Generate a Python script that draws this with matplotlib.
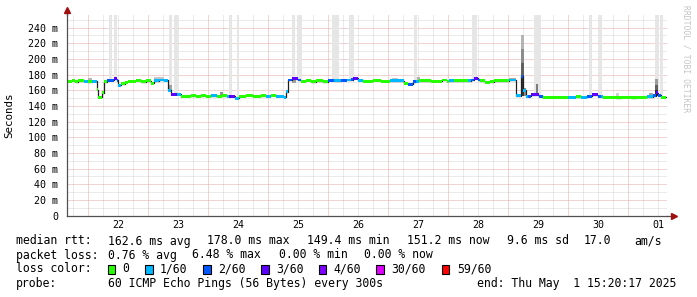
import numpy as np
import matplotlib.pyplot as plt

plt.rcParams['font.family'] = ['DejaVu Sans Mono', 'DejaVu Sans']

# time axis in days of April (31 = May 1), graph ends Thu May 1 15:20:17 2025
t_end = 31 + (15 + 20 / 60 + 17 / 3600) / 24
t_start = t_end - 10

# median rtt steps (start day, ms, lost pings out of 60)
seg_day = [21.639, 21.728, 21.778, 21.828, 21.928,
           21.995, 22.062, 22.140, 22.167, 22.223, 22.257, 22.312, 22.428, 22.478, 22.503, 22.545, 22.612, 22.662, 22.795, 22.878, 22.962,
           23.045, 23.095, 23.178, 23.262, 23.333, 23.387, 23.487, 23.545, 23.712, 23.795, 23.878, 23.962,
           24.045, 24.145, 24.228, 24.312, 24.345, 24.445, 24.512, 24.628, 24.745, 24.878, 24.962,
           25.045, 25.128, 25.262, 25.303, 25.333, 25.395, 25.495, 25.545, 25.628, 25.712, 25.795, 25.912,
           25.995, 26.095, 26.212, 26.312, 26.378, 26.412, 26.490, 26.578, 26.745, 26.878,
           27.028, 27.262, 27.328, 27.412, 27.462, 27.520, 27.712, 27.895, 27.978,
           28.020, 28.103, 28.328, 28.378, 28.428, 28.495, 28.528, 28.612, 28.695, 28.762,
           29.012, 29.128, 29.212, 29.245, 29.295, 29.328, 29.378, 29.512, 29.578,
           29.995, 30.128, 30.212, 30.312, 30.395, 30.495, 30.545, 30.578, 30.795, 30.878,
           31.045, 31.128, 31.312, 31.412, 31.462, 31.495, 31.545]
seg_rtt = [171.5, 172.5, 170.5, 172.0, 171.5,
           170.5, 171.5, 160.5, 151.0, 157.0, 171.0, 172.5, 174.5, 172.5, 166.5, 168.5, 170.0, 171.5, 172.5, 171.0, 172.0,
           169.0, 172.0, 173.0, 172.5, 160.0, 155.0, 154.5, 152.5, 153.0, 152.0, 153.0, 152.5,
           153.0, 152.5, 153.0, 152.5, 152.5, 149.4, 152.5, 153.5, 152.5, 153.0, 152.5,
           153.5, 152.5, 151.0, 158.0, 173.0, 174.5, 173.0, 171.5, 172.5, 170.5, 172.0, 171.0,
           172.5, 172.0, 172.5, 173.0, 173.5, 175.0, 172.5, 171.5, 172.5, 171.5,
           172.0, 169.0, 167.5, 170.5, 171.5, 172.0, 171.5, 173.0, 171.5,
           172.0, 172.0, 172.0, 173.0, 175.0, 173.0, 172.0, 170.0, 171.0, 172.0,
           173.0, 153.0, 178.0, 160.0, 152.5, 152.5, 154.0, 152.5, 151.2,
           151.0, 151.5, 151.0, 152.5, 154.0, 152.5, 151.5, 151.0, 150.5, 151.2,
           150.5, 151.2, 151.5, 153.0, 157.0, 153.5, 151.2]
seg_loss = [0, 0, 0, 0, 1,
            0, 1, 0, 0, 0, 0, 2, 3, 2, 1, 0, 0, 0, 0, 0, 0,
            0, 1, 1, 1, 1, 3, 1, 0, 0, 0, 0, 0,
            1, 0, 0, 1, 3, 1, 0, 0, 0, 0, 1,
            0, 1, 1, 1, 2, 3, 2, 0, 0, 0, 0, 0,
            2, 1, 2, 1, 2, 3, 1, 0, 0, 0,
            1, 0, 2, 2, 1, 0, 0, 0, 0,
            1, 0, 1, 2, 3, 2, 0, 0, 0, 0,
            1, 1, 2, 1, 1, 2, 3, 2, 0,
            1, 0, 1, 2, 3, 2, 1, 0, 0, 0,
            0, 0, 1, 2, 3, 2, 0]

loss_levels = [0, 1, 2, 3, 4, 30, 59]
loss_colors = ['#26ff00', '#00b8ff', '#0059ff', '#5e00ff', '#7e00ff', '#dd00ff', '#ff0000']
loss_names = ['0', '1/60', '2/60', '3/60', '4/60', '30/60', '59/60']

# outer smoke that runs off the top of the graph
haze_from = [22.340, 22.423, 23.350, 23.433, 24.350, 24.478, 25.395, 25.478, 26.062, 26.340,
             27.423, 28.395, 29.433, 30.340, 30.507, 31.450, 31.523]
haze_to = [22.395, 22.478, 23.395, 23.500, 24.395, 24.512, 25.450, 25.557, 26.173, 26.423,
           27.478, 28.473, 29.545, 30.395, 30.562, 31.507, 31.578]

# inner smoke patches
smoke_from = [22.00, 23.10, 23.33, 24.20, 25.40, 27.07, 27.48, 29.01,
              29.22, 29.22, 29.22, 29.22, 29.26, 29.47, 30.80, 31.35, 31.45, 31.45, 31.45]
smoke_to = [22.06, 23.26, 23.40, 24.25, 25.47, 27.16, 27.53, 29.13,
            29.26, 29.26, 29.26, 29.26, 29.30, 29.50, 30.85, 31.42, 31.50, 31.50, 31.50]
smoke_lo = [171, 173, 158, 153, 169, 173, 172, 173,
            153, 175, 195, 212, 153, 153, 151, 152, 152, 160, 167]
smoke_hi = [175, 177, 166, 158, 173, 176, 177, 176,
            175, 195, 212, 231, 163, 168, 156, 157, 160, 167, 174]
smoke_grey = ['#b4b4b4', '#c4c4c4', '#a0a0a0', '#909090', '#a0a0a0', '#c4c4c4', '#b0b0b0', '#a8a8a8',
              '#383838', '#606060', '#8c8c8c', '#b4b4b4', '#8c8c8c', '#7c7c7c', '#d0d0d0', '#a0a0a0',
              '#303030', '#606060', '#9c9c9c']

y_max = 256
day_labels = ['22', '23', '24', '25', '26', '27', '28', '29', '30', '01']

fig = plt.figure(figsize=(6.97, 2.97), dpi=100)
fig.patch.set_facecolor('white')
ax = fig.add_axes([66.5 / 697, (297 - 215.5) / 297, 600 / 697, (215.5 - 15) / 297])
ax.set_xlim(t_start, t_end)
ax.set_ylim(0, y_max)

# grid, rrdtool style
for d in np.arange(21.75, 31.8, 0.25):
    if abs(d - round(d)) < 1e-6:
        ax.axvline(d, color='#e6a8a8', lw=0.72, ls=(0, (1, 1)), zorder=0.6)
    else:
        ax.axvline(d, color='#d6d6d6', lw=0.72, ls=(0, (1, 1)), zorder=0.5)
for v in range(10, 260, 10):
    if v % 20 == 0:
        ax.axhline(v, color='#e6a8a8', lw=0.72, ls=(0, (1, 1)), zorder=0.6)
    else:
        ax.axhline(v, color='#d6d6d6', lw=0.72, ls=(0, (1, 1)), zorder=0.5)

days = np.array(seg_day)
rtt = np.array(seg_rtt)
edges = np.append(days, t_end)
widths = np.diff(edges)

# haze from the median up to the top
h_from = np.array(haze_from)
h_to = np.array(haze_to)
base = rtt[np.searchsorted(days, h_from, side='right') - 1]
ax.bar(h_from, y_max - base, bottom=base, width=h_to - h_from, align='edge',
       color='#e6e6e6', lw=0, zorder=1)

s_from = np.array(smoke_from)
ax.bar(s_from, np.array(smoke_hi) - np.array(smoke_lo), bottom=smoke_lo,
       width=np.array(smoke_to) - s_from, align='edge', color=smoke_grey, lw=0, zorder=2)

# median line
ax.step(edges, np.append(rtt, rtt[-1]), where='post', color='#202020', lw=0.9, zorder=3)

# coloured loss band on the median
band = 3.8
col = [loss_colors[loss_levels.index(l)] for l in seg_loss]
ax.bar(days, band, bottom=rtt - band / 2, width=widths, align='edge', color=col, lw=0, zorder=4)

ax.set_yticks(range(0, 241, 20))
ax.set_yticklabels(['0'] + ['%d m' % v for v in range(20, 241, 20)])
ax.set_xticks(np.arange(22.5, 32, 1))
ax.set_xticklabels(day_labels)
ax.tick_params(axis='both', length=0, labelsize=7.2, colors='black')
ax.tick_params(axis='y', pad=6)
ax.tick_params(axis='x', pad=3)

for side in ['top', 'right']:
    ax.spines[side].set_visible(False)
for side in ['left', 'bottom']:
    ax.spines[side].set_color('#505050')
    ax.spines[side].set_linewidth(0.9)
    ax.spines[side].set_zorder(5)
ax.plot([1.0, 1.012], [0, 0], transform=ax.transAxes, color='#505050', lw=0.9, clip_on=False)
ax.plot([0, 0], [1.0, 1.02], transform=ax.transAxes, color='#505050', lw=0.9, clip_on=False)
ax.plot(1.012, 0, marker='>', ms=4, color='#a01010', transform=ax.transAxes, clip_on=False)
ax.plot(0, 1.025, marker='^', ms=4, color='#a01010', transform=ax.transAxes, clip_on=False)

ax.set_ylabel('Seconds', fontsize=7.8, labelpad=10)

fig.text(686 / 697, 1 - 5 / 297, 'RRDTOOL / TOBI OETIKER', rotation=270, fontsize=5.8,
         color='#c4c4c4', ha='center', va='top')

fs = 8.3


def put(x, y, s):
    fig.text(x / 697, 1 - y / 297, s, fontsize=fs, ha='left', va='center')


put(16, 241, 'median rtt:')
put(107.6, 241, '162.6 ms avg')
put(207, 241, '178.0 ms max')
put(307, 241, '149.4 ms min')
put(407, 241, '151.2 ms now')
put(507, 241, '9.6 ms sd')
put(584, 241, '17.0')
put(634, 241, 'am/s')

put(16, 255, 'packet loss:')
put(107.6, 255, '0.76 % avg')
put(191.6, 255, '6.48 % max')
put(278.7, 255, '0.00 % min')
put(364, 255, '0.00 % now')

put(16, 269, 'loss color:')
swatch_x = [107.6, 145, 203, 261, 318.7, 376.4, 441.8]
for sx, c, name in zip(swatch_x, loss_colors, loss_names):
    fig.patches.append(plt.Rectangle((sx / 697, 1 - 273.5 / 297), 7.5 / 697, 9 / 297,
                                     transform=fig.transFigure, facecolor=c,
                                     edgecolor='black', lw=0.8))
    put(sx + 15, 269, name)

put(16, 284, 'probe:')
put(107.6, 284, '60 ICMP Echo Pings (56 Bytes) every 300s')
put(477.3, 284, 'end: Thu May  1 15:20:17 2025')

fig.savefig('out.png', dpi=100)
